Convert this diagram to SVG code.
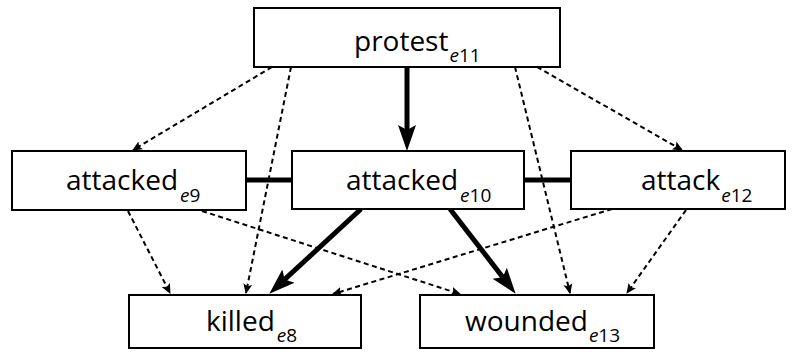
<svg xmlns="http://www.w3.org/2000/svg" width="793" height="354" viewBox="0 0 793 354">
<style>
.box{fill:#fff;stroke:#000;stroke-width:2}
.lbl{font-family:"Open Sans","Noto Sans",sans-serif;font-size:28px;fill:#000}
.sub{font-size:19px}
.e{font-style:italic}
.thick{stroke:#000;stroke-width:5;fill:none}
.dash{stroke:#000;stroke-width:2;stroke-dasharray:5,3.5;fill:none}
</style>
<defs>
<marker id="big" markerUnits="userSpaceOnUse" viewBox="0 -10 26 20" refX="15" refY="0" markerWidth="26" markerHeight="20" orient="auto">
<path d="M0,-9 L26,0 L0,9 L5,0 Z" fill="#000"/>
</marker>
<marker id="small" markerUnits="userSpaceOnUse" viewBox="0 -5 10 10" refX="9" refY="0" markerWidth="10" markerHeight="10" orient="auto">
<path d="M0,-4.5 L10,0 L0,4.5 L2,0 Z" fill="#000"/>
</marker>
</defs>
<g id="connectors">
<line class="thick" x1="407" y1="67" x2="407" y2="140" marker-end="url(#big)"/>
<line class="thick" x1="246" y1="180" x2="292" y2="180"/>
<line class="thick" x1="524" y1="180" x2="571" y2="180"/>
<line class="thick" x1="361" y1="209" x2="277.4" y2="286.2" marker-end="url(#big)"/>
<line class="thick" x1="450" y1="209" x2="508.9" y2="285.1" marker-end="url(#big)"/>
<line class="dash" x1="272" y1="67" x2="133" y2="150" marker-end="url(#small)"/>
<line class="dash" x1="291" y1="67" x2="246" y2="293" marker-end="url(#small)"/>
<line class="dash" x1="515" y1="67" x2="570" y2="293" marker-end="url(#small)"/>
<line class="dash" x1="537" y1="67" x2="682" y2="150" marker-end="url(#small)"/>
<line class="dash" x1="128" y1="211" x2="170" y2="293" marker-end="url(#small)"/>
<line class="dash" x1="202" y1="211" x2="460" y2="294" marker-end="url(#small)"/>
<line class="dash" x1="612" y1="209" x2="333" y2="294" marker-end="url(#small)"/>
<line class="dash" x1="686" y1="210" x2="627" y2="293" marker-end="url(#small)"/>
</g>
<g id="protest">
<rect class="box" x="254" y="8" width="306" height="59"/>
<text class="lbl" x="354" y="51">protest<tspan class="sub" dx="1" dy="11"><tspan class="e">e</tspan>11</tspan></text>
</g>
<g id="attacked_e9">
<rect class="box" x="12" y="151" width="234" height="59"/>
<text class="lbl" x="66" y="190">attacked<tspan class="sub" dx="2" dy="12"><tspan class="e">e</tspan>9</tspan></text>
</g>
<g id="attacked_e10">
<rect class="box" x="292" y="151" width="232" height="58"/>
<text class="lbl" x="346" y="190">attacked<tspan class="sub" dx="2" dy="12"><tspan class="e">e</tspan>10</tspan></text>
</g>
<g id="attack_e12">
<rect class="box" x="571" y="151" width="214" height="58"/>
<text class="lbl" x="641" y="190">attack<tspan class="sub" dx="1" dy="12"><tspan class="e">e</tspan>12</tspan></text>
</g>
<g id="killed_e8">
<rect class="box" x="129" y="295" width="232" height="53"/>
<text class="lbl" x="206" y="331">killed<tspan class="sub" dx="2" dy="11"><tspan class="e">e</tspan>8</tspan></text>
</g>
<g id="wounded_e13">
<rect class="box" x="420" y="295" width="234" height="53"/>
<text class="lbl" x="465" y="331">wounded<tspan class="sub" dx="1" dy="11"><tspan class="e">e</tspan>13</tspan></text>
</g>
</svg>
